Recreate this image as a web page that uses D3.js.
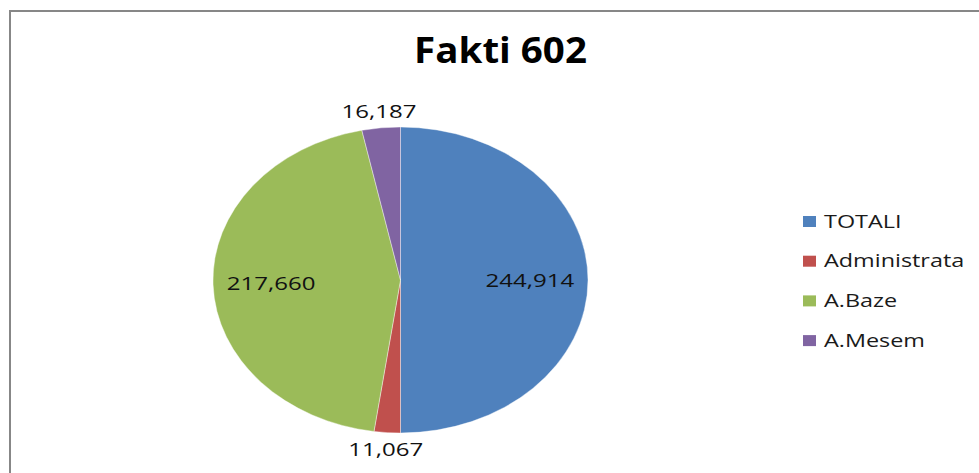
<!DOCTYPE html>
<html>
<head>
<meta charset="utf-8">
<script src="https://cdn.jsdelivr.net/npm/d3@7"></script>
<style>
  html, body { margin: 0; padding: 0; background: #fff; }
  svg { display: block; }
</style>
</head>
<body>
<svg id="chart" width="979" height="473"></svg>
<script>
const title = "Fakti 602";
const categories = ["TOTALI", "Administrata", "A.Baze", "A.Mesem"];
const values = [244914, 11067, 217660, 16187];
const colors = ["#4F81BD", "#C0504D", "#9BBB59", "#8064A2"];

const W = 979, H = 473;
const svg = d3.select("#chart");
const font = "'Open Sans', 'DejaVu Sans', sans-serif";

// chart frame
svg.append("rect")
  .attr("x", 10).attr("y", 11)
  .attr("width", 1000).attr("height", 500)
  .attr("fill", "#fff")
  .attr("stroke", "#878787").attr("stroke-width", 2);

// title
svg.append("text")
  .attr("transform", "translate(500.5,63) scale(1.07,1)")
  .attr("text-anchor", "middle")
  .attr("font-family", font).attr("font-weight", 700)
  .attr("font-size", 36).attr("fill", "#000")
  .text(title);

// pie (drawn as circle, stretched horizontally like the reference)
const cx = 400.5, cy = 280, r = 153, sx = 187.5 / 153;
const pie = d3.pie().sort(null).value(d => d)(values);
const total = d3.sum(values);
const arc = d3.arc().innerRadius(0).outerRadius(r);

const g = svg.append("g").attr("transform", `translate(${cx},${cy}) scale(${sx},1)`);
g.selectAll("path").data(pie).join("path")
  .attr("d", arc)
  .attr("fill", (d, i) => colors[i])
  .attr("stroke", "#ffffff").attr("stroke-opacity", 0.6).attr("stroke-width", 0.6);

// data labels
const fmt = d3.format(",");
svg.selectAll("text.lbl").data(pie).join("text")
  .attr("class", "lbl")
  .attr("transform", d => {
    const frac = d.value / total;
    const k = frac > 0.1 ? 0.69 : 1.11;
    const lab = d3.arc().innerRadius(r * k).outerRadius(r * k);
    const [x, y] = lab.centroid(d);
    return `translate(${cx + x * sx},${cy + y + 7}) scale(1.3,1)`;
  })
  .attr("text-anchor", "middle")
  .attr("font-family", font).attr("font-size", 18.5)
  .attr("fill", "#111")
  .text(d => fmt(d.value));

// legend
const legend = svg.append("g").attr("transform", "translate(803,221)");
const item = legend.selectAll("g").data(categories).join("g")
  .attr("transform", (d, i) => `translate(0,${i * 39.7})`);
item.append("rect")
  .attr("x", 0).attr("y", -5).attr("width", 13).attr("height", 11)
  .attr("fill", (d, i) => colors[i]);
item.append("text")
  .attr("transform", "translate(21,6.5) scale(1.3,1)")
  .attr("font-family", font).attr("font-size", 18)
  .attr("fill", "#1a1a1a")
  .text(d => d);
</script>
</body>
</html>
